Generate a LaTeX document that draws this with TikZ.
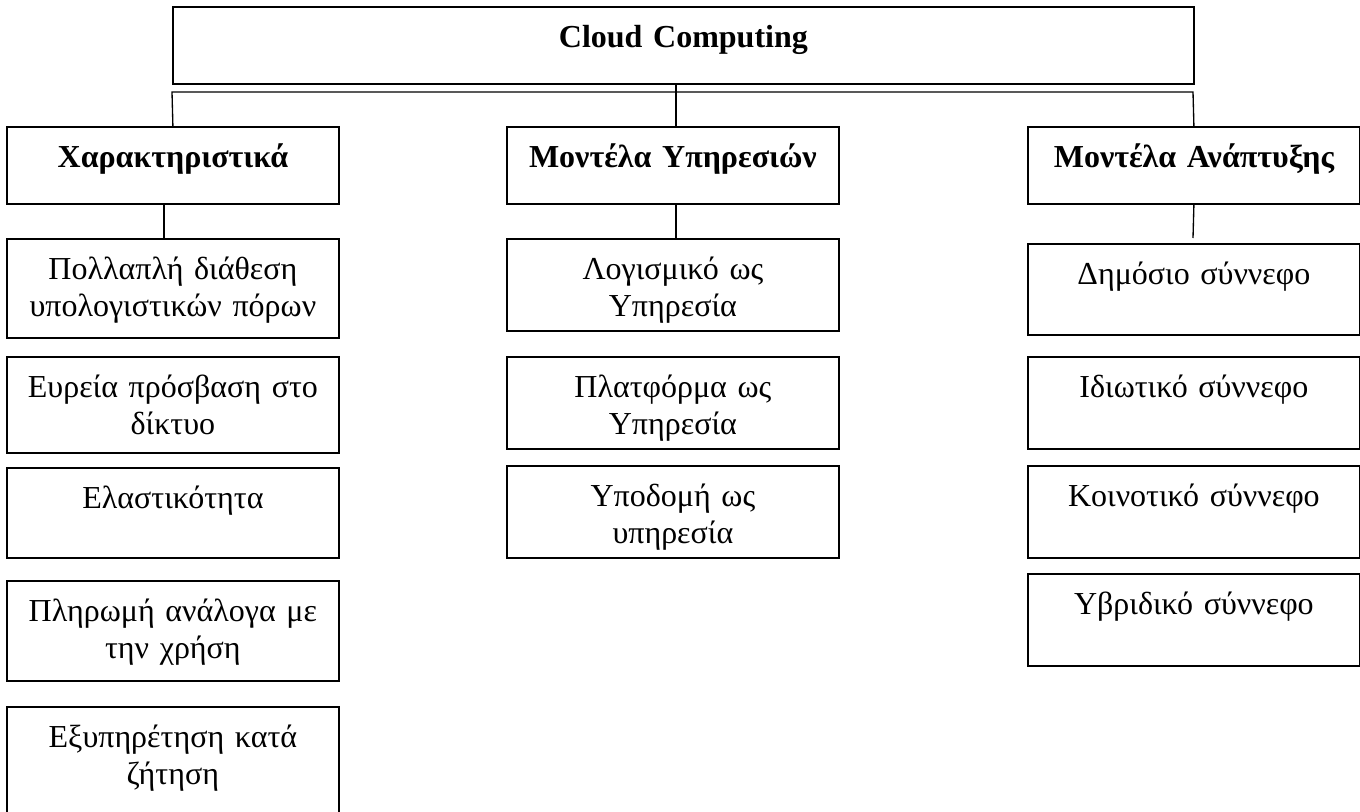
\documentclass[tikz,border=0pt]{standalone}
\usepackage{fontspec}
\setmainfont{Liberation Serif}
\usetikzlibrary{calc}
\tikzset{
  boxnode/.style={draw=black, line width=1.35pt, inner sep=0pt, anchor=north west},
  txt/.style={font=\fontsize{24}{27.75}\selectfont, align=center, text width=245pt, anchor=base, inner sep=0pt},
  conn/.style={line width=1pt}
}
\newcommand\mybox[6]{%
  \node[boxnode, minimum width={(#4-#2)*0.75pt}, minimum height={(#5-#3)*0.75pt}] (#1) at (#2,#3) {};
  \node[txt] (#1t) at ($(#1.north)+(0,41)$) {#6};
}
\begin{document}
\begin{tikzpicture}[x=0.75pt,y=-0.75pt]
\fill[white] (0,0) rectangle (1360,811);
\clip (0,0) rectangle (1360,811);
% top
\mybox{cc}{172}{6}{1193}{83}{\bfseries Cloud Computing}
% headings
\mybox{h1}{6}{126}{338}{203}{\bfseries Χαρακτηριστικά}
\mybox{h2}{506}{126}{838}{203}{\bfseries Μοντέλα Υπηρεσιών}
\mybox{h3}{1027}{126}{1359}{203}{\bfseries Μοντέλα Ανάπτυξης}
% left column
\mybox{l1}{6}{238}{338}{337}{Πολλαπλή διάθεση\\υπολογιστικών πόρων}
\mybox{l2}{6}{356}{338}{452}{Ευρεία πρόσβαση στο\\δίκτυο}
\mybox{l3}{6}{467}{338}{557}{Ελαστικότητα}
\mybox{l4}{6}{580}{338}{680}{Πληρωμή ανάλογα με\\την χρήση}
\mybox{l5}{6}{706}{338}{830}{Εξυπηρέτηση κατά\\ζήτηση}
% middle column
\mybox{m1}{506}{238}{838}{330}{Λογισμικό ως\\Υπηρεσία}
\mybox{m2}{506}{356}{838}{448}{Πλατφόρμα ως\\Υπηρεσία}
\mybox{m3}{506}{465}{838}{557}{Υποδομή ως\\υπηρεσία}
% right column
\mybox{r1}{1027}{243}{1359}{334}{Δημόσιο σύννεφο}
\mybox{r2}{1027}{356}{1359}{448}{Ιδιωτικό σύννεφο}
\mybox{r3}{1027}{465}{1359}{557}{Κοινοτικό σύννεφο}
\mybox{r4}{1027}{573}{1359}{665}{Υβριδικό σύννεφο}
% connectors
\coordinate (busL) at (172,92);
\coordinate (busR) at (1193,92);
\coordinate (midx) at (676,0);
\coordinate (lx) at (164,0);
\coordinate (rstub) at (1193,238);
\draw[conn] (h1.north) -- (busL) -- (busR) -- (h3.north);
\draw[conn] (cc.south -| midx) -- (h2.north -| midx);
\draw[conn] (h1.south -| lx) -- (l1.north -| lx);
\draw[conn] (h2.south -| midx) -- (m1.north -| midx);
\draw[conn] (h3.south) -- (rstub);
\end{tikzpicture}
\end{document}
